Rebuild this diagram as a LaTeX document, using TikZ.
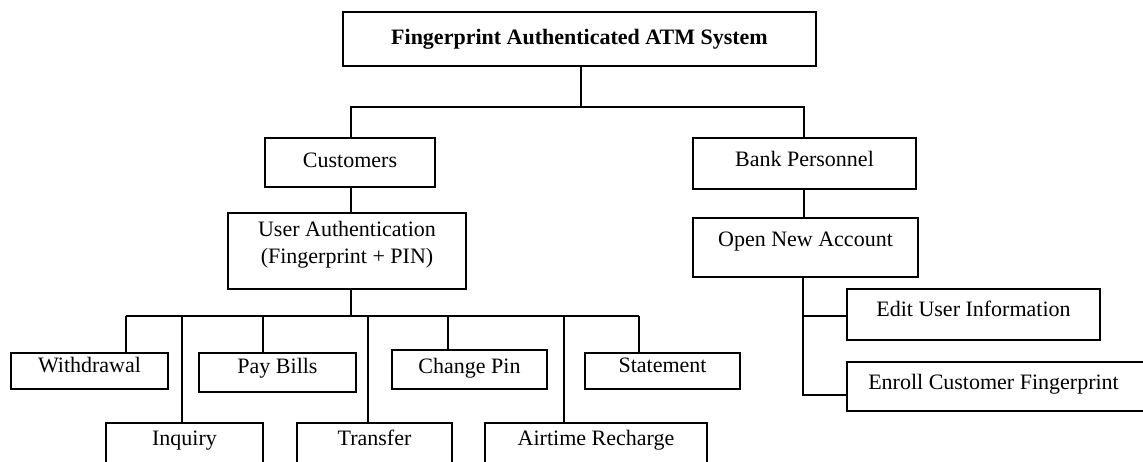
\documentclass[tikz,border=0pt]{standalone}
\usepackage{fontspec}
\setmainfont{Liberation Serif}
\usetikzlibrary{calc}

\begin{document}
\begin{tikzpicture}[x=0.5pt,y=-0.5pt]
		\tikzset{box/.style={draw,line width=0.8pt,inner sep=0pt,align=center,font=\fontsize{11}{13.6}\selectfont}}
		\tikzset{single/.style={box,text height=8pt}}
		\tikzset{link/.style={line width=0.8pt}}
		
		\useasboundingbox (0,0) rectangle (1143,461);
		
		\node[single,font=\fontsize{11}{13.6}\selectfont\bfseries,minimum width=236.5pt,minimum height=27pt,text depth=2.4pt] (atm) at (579.5,39) {Fingerprint Authenticated ATM System};
		
		\node[single,minimum width=85pt,minimum height=24.5pt,text depth=2.9pt] (cust) at (350,162.5) {Customers};
		\node[single,minimum width=111.5pt,minimum height=25.5pt,text depth=4.9pt] (bank) at (804.5,163.5) {Bank Personnel};
		
		\node[box,minimum width=119pt,minimum height=38pt,text depth=8.9pt] (auth) at (347,251) {User Authentication\\(Fingerprint + PIN)};
		\node[single,minimum width=112.5pt,minimum height=29.5pt,text depth=8.9pt] (ona) at (805.5,247.5) {Open New Account};
		
		\node[single,minimum width=126.5pt,minimum height=25.5pt,text depth=5.9pt] (edit) at (973.5,314.5) {Edit User Information};
		\node[single,minimum width=156.5pt,minimum height=24.5pt,text depth=4.9pt] (enroll) at (1003.5,386.5) {\hspace*{-10pt}Enroll Customer Fingerprint};
		
		\node[single,minimum width=78.5pt,minimum height=18pt,text depth=6.9pt] (withdraw) at (89.5,371) {Withdrawal};
		\node[single,minimum width=78.5pt,minimum height=19.5pt,text depth=6.9pt] (paybills) at (277.5,372.5) {Pay Bills};
		\node[single,minimum width=77.5pt,minimum height=19.5pt,text depth=3.9pt] (pin) at (469.5,369.5) {Change Pin};
		\node[single,minimum width=77.5pt,minimum height=18pt,text depth=6.9pt] (stmt) at (662.5,371) {Statement};
		
		\node[single,minimum width=78.5pt,minimum height=21pt,text depth=6.4pt] (inquiry) at (184.5,444) {Inquiry};
		\node[single,minimum width=77.5pt,minimum height=21pt,text depth=6.4pt] (transfer) at (374.5,444) {Transfer};
		\node[single,minimum width=111pt,minimum height=21pt,text depth=6.4pt] (airtime) at (596,444) {Airtime Recharge};
		
		% top level
		\coordinate (bus1) at (581,107);
		\draw[link] (atm.south -| bus1) -- (bus1);
		\draw[link] (cust.north -| 351,0) -- (351,107) -| (bank.north -| 804,0);
		
		\draw[link] (cust.south -| 351,0) -- (auth.north -| 351,0);
		\draw[link] (bank.south -| 804,0) -- (ona.north -| 804,0);
		
		% customer services
		\coordinate (bus2) at (351,316);
		\coordinate (t1) at (126,316);
		\coordinate (t2) at (182,316);
		\coordinate (t3) at (263,316);
		\coordinate (t4) at (368,316);
		\coordinate (t5) at (448,316);
		\coordinate (t6) at (564,316);
		\coordinate (t7) at (639,316);
		\draw[link] (auth.south -| bus2) -- (bus2);
		\draw[link] (t1) -- (t7);
		\draw[link] (t1) -- (t1 |- withdraw.north);
		\draw[link] (t2) -- (t2 |- inquiry.north);
		\draw[link] (t3) -- (t3 |- paybills.north);
		\draw[link] (t4) -- (t4 |- transfer.north);
		\draw[link] (t5) -- (t5 |- pin.north);
		\draw[link] (t6) -- (t6 |- airtime.north);
		\draw[link] (t7) -- (t7 |- stmt.north);
		
		% bank personnel services
		\coordinate (b1) at (803,316);
		\coordinate (b2) at (803,395);
		\draw[link] (ona.south -| b2) -- (b2) -- (b2 -| enroll.west);
		\draw[link] (b1) -- (b1 -| edit.west);
		
\end{tikzpicture}
\end{document}
